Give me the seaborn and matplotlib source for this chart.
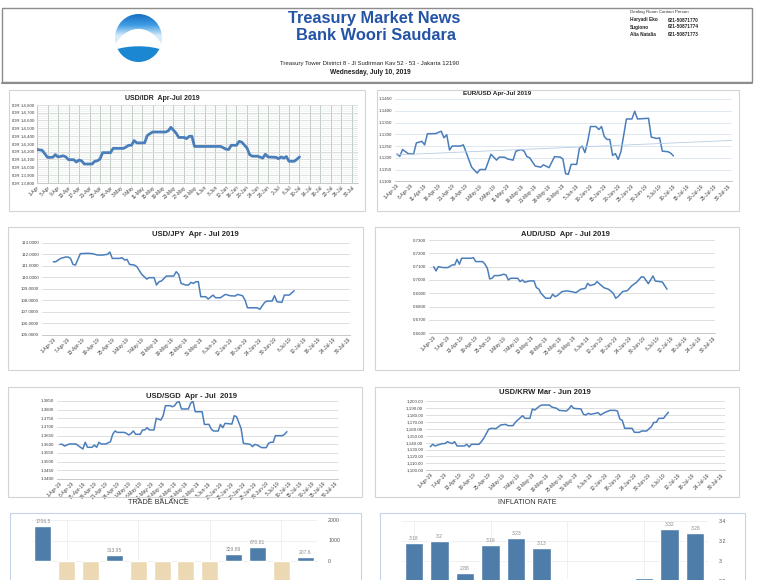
import numpy as np
import pandas as pd
import matplotlib
matplotlib.use("Agg")
import matplotlib.pyplot as plt
import seaborn as sns
from matplotlib.patches import Rectangle, Ellipse, Circle
from matplotlib.colors import LinearSegmentedColormap
from matplotlib.ticker import FuncFormatter, MultipleLocator

# ----------- DONNÉES -------------
# toutes les séries fx : jour 0 = 1 avril 2019
START = pd.Timestamp("2019-04-01")

idr_day = [0, 2, 4, 6, 7, 8, 10, 11, 12, 14, 15, 16, 17, 18, 21, 22, 23, 24, 25, 28,
           29, 33, 35, 36, 37, 38, 41, 42, 44, 49, 50, 51, 53, 54, 56, 57, 58, 59, 60, 70,
           72, 73, 74, 76, 77, 78, 80, 81, 82, 84, 86, 87, 88, 91, 92, 93, 94, 95, 96, 98,
           99, 100]
idr_val = [14225, 14215, 14125, 14125, 14160, 14130, 14145, 14130, 14095, 14095,
           14065, 14090, 14080, 14040, 14040, 14075, 14080, 14105, 14185, 14185,
           14240, 14240, 14280, 14280, 14340, 14310, 14310, 14405, 14450, 14450,
           14465, 14510, 14435, 14380, 14380, 14365, 14395, 14395, 14265, 14265,
           14230, 14225, 14280, 14280, 14330, 14320, 14245, 14160, 14140, 14140,
           14115, 14165, 14130, 14125, 14108, 14130, 14115, 14135, 14075, 14075,
           14100, 14130]

eur_day = [0, 1, 2, 4, 6, 7, 9, 10, 11, 14, 16, 17, 18, 19, 20, 23, 24, 27, 29, 30,
           32, 34, 36, 37, 39, 40, 42, 43, 45, 46, 47, 48, 50, 52, 53, 55, 57, 59, 60, 61,
           62, 63, 65, 66, 67, 68, 69, 70, 72, 73, 74, 75, 76, 77, 78, 79, 80, 81, 83, 85,
           86, 87, 91, 92, 94, 95, 96, 98, 99, 100]
eur_val = [1.1216, 1.1206, 1.1235, 1.1218, 1.1216, 1.1263, 1.1270, 1.1255, 1.1302, 1.1303,
           1.1313, 1.1285, 1.1298, 1.1233, 1.1250, 1.1250, 1.1255, 1.1160, 1.1135, 1.1150,
           1.1150, 1.1215, 1.1190, 1.1203, 1.1202, 1.1195, 1.1190, 1.1228, 1.1235, 1.1228,
           1.1205, 1.1200, 1.1165, 1.1160, 1.1170, 1.1158, 1.1205, 1.1203, 1.1195, 1.1132,
           1.1130, 1.1172, 1.1172, 1.1240, 1.1250, 1.1222, 1.1270, 1.1333, 1.1333, 1.1320,
           1.1333, 1.1290, 1.1278, 1.1278, 1.1210, 1.1218, 1.1193, 1.1225, 1.1365, 1.1365,
           1.1398, 1.1365, 1.1368, 1.1288, 1.1282, 1.1285, 1.1228, 1.1226, 1.1220, 1.1208]

jpy_day = [0, 1, 3, 5, 6, 7, 8, 9, 11, 14, 16, 18, 20, 22, 23, 24, 27, 28, 29, 30,
           31, 33, 34, 36, 38, 39, 41, 42, 43, 44, 46, 49, 50, 51, 52, 54, 55, 56, 57, 58,
           59, 60, 62, 63, 65, 66, 68, 70, 72, 74, 75, 77, 78, 79, 83, 84, 86, 87, 89, 90,
           91, 93, 94, 96, 98]
jpy_val = [111.35, 111.35, 111.64, 111.76, 111.76, 111.64, 111.12, 111.06, 112.05, 112.08,
           112.05, 111.93, 111.93, 111.99, 112.19, 111.64, 111.64, 111.70, 111.50, 111.55,
           111.12, 111.06, 110.92, 110.25, 109.85, 109.97, 109.97, 109.33, 109.62, 109.68,
           110.11, 110.11, 110.49, 110.25, 109.47, 109.33, 109.33, 109.56, 109.47, 109.62,
           109.62, 108.32, 108.32, 108.12, 108.46, 108.23, 108.23, 108.52, 108.40, 108.38,
           108.52, 108.40, 108.03, 107.36, 107.36, 107.22, 107.83, 107.94, 107.94, 108.40,
           107.88, 107.83, 108.46, 108.46, 108.84]

aud_day = [0, 1, 2, 4, 6, 8, 9, 10, 11, 12, 16, 17, 18, 21, 22, 23, 24, 25, 26, 28,
           30, 31, 32, 33, 36, 37, 38, 39, 41, 43, 44, 45, 46, 48, 50, 51, 52, 53, 55, 57,
           59, 61, 63, 65, 66, 67, 69, 70, 71, 73, 75, 77, 78, 79, 81, 83, 85, 87, 89, 90,
           92, 94, 95, 98, 100]
aud_val = [0.7100, 0.7068, 0.7100, 0.7093, 0.7093, 0.7113, 0.7113, 0.7155, 0.7118, 0.7163,
           0.7163, 0.7168, 0.7138, 0.7138, 0.7118, 0.7088, 0.7008, 0.7013, 0.7033, 0.7033,
           0.7043, 0.7038, 0.7000, 0.7013, 0.7013, 0.6988, 0.7000, 0.6983, 0.6993, 0.6993,
           0.6943, 0.6933, 0.6900, 0.6863, 0.6863, 0.6893, 0.6875, 0.6883, 0.6913, 0.6918,
           0.6913, 0.6905, 0.6930, 0.6938, 0.6975, 0.6958, 0.6968, 0.6988, 0.6972, 0.6942,
           0.6930, 0.6900, 0.6863, 0.6875, 0.6913, 0.6920, 0.6958, 0.6983, 0.7023, 0.7023,
           0.6972, 0.7030, 0.6992, 0.6985, 0.6931]

sgd_day = [0, 1, 2, 4, 7, 8, 10, 11, 12, 14, 15, 16, 17, 18, 20, 22, 23, 24, 25, 28,
           29, 30, 31, 32, 33, 35, 36, 37, 38, 39, 41, 42, 44, 45, 46, 48, 49, 50, 51, 52,
           53, 56, 57, 58, 59, 62, 63, 65, 66, 67, 69, 70, 71, 72, 75, 76, 77, 79, 80, 83,
           84, 85, 86, 88, 90, 91, 92, 93, 94, 97, 98, 99]
sgd_val = [1.3600, 1.3600, 1.3590, 1.3602, 1.3602, 1.3592, 1.3573, 1.3612, 1.3583, 1.3583,
           1.3596, 1.3583, 1.3612, 1.3602, 1.3602, 1.3615, 1.3658, 1.3677, 1.3669, 1.3669,
           1.3663, 1.3654, 1.3663, 1.3677, 1.3658, 1.3658, 1.3683, 1.3683, 1.3696, 1.3683,
           1.3683, 1.3750, 1.3740, 1.3765, 1.3823, 1.3823, 1.3817, 1.3823, 1.3842, 1.3846,
           1.3804, 1.3804, 1.3837, 1.3850, 1.3788, 1.3788, 1.3715, 1.3715, 1.3688, 1.3677,
           1.3677, 1.3715, 1.3696, 1.3721, 1.3717, 1.3765, 1.3760, 1.3692, 1.3606, 1.3600,
           1.3587, 1.3600, 1.3596, 1.3581, 1.3581, 1.3606, 1.3612, 1.3612, 1.3650, 1.3650,
           1.3658, 1.3673]

krw_day = [0, 1, 2, 3, 5, 6, 7, 8, 9, 10, 11, 14, 15, 16, 17, 20, 21, 22, 24, 25,
           27, 29, 31, 32, 34, 35, 36, 38, 39, 41, 42, 43, 45, 46, 49, 50, 52, 53, 56, 57,
           58, 59, 62, 63, 64, 65, 66, 68, 69, 70, 72, 74, 76, 77, 78, 79, 80, 83, 84, 86,
           87, 89, 91, 92, 93, 94, 96, 97, 98]
krw_val = [1134.1, 1137.5, 1135.1, 1136.5, 1138.5, 1138.5, 1141.3, 1139.9, 1138.5, 1141.3,
           1135.1, 1135.1, 1137.5, 1133.7, 1137.5, 1137.5, 1141.3, 1146.2, 1159.1, 1160.6,
           1160.1, 1165.4, 1166.3, 1164.4, 1164.4, 1169.2, 1172.6, 1178.8, 1175.0, 1175.0,
           1188.5, 1187.0, 1192.8, 1194.2, 1194.2, 1191.3, 1189.4, 1186.5, 1185.6, 1188.5,
           1193.3, 1189.4, 1188.5, 1180.8, 1179.8, 1182.2, 1180.8, 1182.2, 1183.2, 1179.8,
           1183.7, 1186.5, 1186.5, 1185.6, 1174.0, 1172.1, 1160.6, 1160.6, 1154.8, 1154.8,
           1156.7, 1156.7, 1163.0, 1169.2, 1169.2, 1175.0, 1175.0, 1179.8, 1183.7]

# balance commerciale (USD mn) et inflation (% yoy)
trade_month = ["Jun-18", "Jul-18", "Aug-18", "Sep-18", "Oct-18", "Nov-18",
               "Dec-18", "Jan-19", "Feb-19", "Mar-19", "Apr-19", "May-19"]
trade_val = [1706.5, -2031.8, -1022.0, 313.95, -1820.0, -2050.0,
             -1100.0, -1160.0, 329.89, 670.81, -2500.0, 207.6]
trade_ticks = [-1000, 0, 1000, 2000]
infl_month = ["Jul-18", "Aug-18", "Sep-18", "Oct-18", "Nov-18", "Dec-18",
              "Jan-19", "Feb-19", "Mar-19", "Apr-19", "May-19", "Jun-19"]
infl_val = [3.18, 3.2, 2.88, 3.16, 3.23, 3.13, 2.82, 2.57, 2.48, 2.83, 3.32, 3.28]
infl_ticks = [2.8, 3.0, 3.2, 3.4]

# ----------- MISE EN PAGE -------------
W, H = 758, 580
LINE = "#4a7ebb"
BAR_BLUE = "#3f7db8"
BAR_NEG = "#f5dcaa"

sns.set_style("white")
plt.rcParams["font.family"] = ["Liberation Sans", "DejaVu Sans"]

fig = plt.figure(figsize=(W / 100, H / 100), dpi=100)


def px_axes(left, top, right, bottom):
    # axes placés en pixels (origine en haut à gauche)
    return fig.add_axes([left / W, 1 - bottom / H, (right - left) / W, (bottom - top) / H])


def px_box(x1, y1, x2, y2, color="#d4d4d4", lw=0.8):
    fig.add_artist(Rectangle((x1 / W, 1 - y2 / H), (x2 - x1) / W, (y2 - y1) / H,
                             transform=fig.transFigure, fill=False, ec=color, lw=lw))


def px_text(x, y, s, **kw):
    fig.text(x / W, 1 - y / H, s, **kw)


def fx_chart(day, val, left, x0, ppd, right, ytop, ybot, ylim, ystep, every, fmt,
             long_label=True, lw=1.1):
    # left = bord de la zone de tracé, x0 = position du 1er avril
    ax = px_axes(left, ytop, right, ybot)
    sns.lineplot(x=day, y=val, ax=ax, color=LINE, linewidth=lw)
    ax.set_xlim((left - x0) / ppd, (right - x0) / ppd)
    ax.set_ylim(*ylim)
    ticks = np.arange(0, 121, every)
    dates = START + pd.to_timedelta(ticks, unit="D")
    if long_label:
        labels = [f"{d.day}-{d:%b-%y}" for d in dates]
    else:
        labels = [f"{d.day}-{d:%b}" for d in dates]
    ax.set_xticks(ticks)
    ax.set_xticklabels(labels, rotation=45, ha="right", rotation_mode="anchor")
    ax.yaxis.set_major_locator(MultipleLocator(ystep))
    ax.yaxis.set_major_formatter(FuncFormatter(fmt))
    ax.grid(axis="y", color="#d9d9d9", lw=0.6)
    ax.tick_params(axis="x", labelsize=3.5, length=0, pad=1.5, colors="#404040")
    ax.tick_params(axis="y", labelsize=3.2, length=0, pad=2, colors="#404040")
    for s in ["top", "right", "left"]:
        ax.spines[s].set_visible(False)
    ax.spines["bottom"].set_color("#bfbfbf")
    ax.spines["bottom"].set_linewidth(0.6)
    ax.set_xlabel("")
    ax.set_ylabel("")
    return ax


# ----------- EN-TÊTE -------------
px_box(2, 8, 752, 82, color="#8c8c8c", lw=1.0)
fig.add_artist(plt.Line2D([2 / W, 752 / W], [1 - 83 / H, 1 - 83 / H],
                          transform=fig.transFigure, color="#8c8c8c", lw=1.5))

# logo : disque bleu avec un arc blanc
lg = px_axes(115, 14, 162, 62)
disc = Circle((0, 0), 1, fc="none", ec="none")
lg.add_patch(disc)
yy = np.linspace(1, -1, 200).reshape(-1, 1)
sky = np.clip((1 - yy) / 0.9, 0, 1)
cmap = LinearSegmentedColormap.from_list("sky", ["#1670c2", "#3d9be3", "#d6ecfb"])
im = lg.imshow(sky, cmap=cmap, extent=(-1, 1, -1, 1), aspect="auto", vmin=0, vmax=1)
im.set_clip_path(disc)
for c, w, h, col in [((0, -1.45), 2.6, 3.66, "white"), ((0, -0.91), 3.0, 1.13, "#1b86d1")]:
    e = Ellipse(c, w, h, fc=col, ec="none")
    lg.add_patch(e)
    e.set_clip_path(disc)
lg.set_xlim(-1, 1)
lg.set_ylim(-1, 1)
lg.axis("off")

px_text(374, 18, "Treasury Market News", ha="center", va="center", fontsize=11.8,
        fontweight="bold", color="#2454a6")
px_text(376, 36, "Bank Woori Saudara", ha="center", va="center", fontsize=11.8,
        fontweight="bold", color="#2454a6")
px_text(370, 63, "Treasury Tower District 8 - Jl Sudirman Kav 52 - 53 - Jakarta 12190",
        ha="center", va="center", fontsize=4.3, color="#222222")
px_text(370, 72, "Wednesday, July 10, 2019", ha="center", va="center", fontsize=4.8,
        fontweight="bold", color="#222222")

px_text(630, 12, "Dealing Room Contact Person", va="center", fontsize=3.2, color="#333333")
for yy_, name, tel in [(20, "Haryadi Eko", "021-50871770"), (27, "Sugiono", "021-50871774"),
                       (34, "Alia Natalia", "021-50871773")]:
    px_text(630, yy_, name, va="center", fontsize=3.4, fontweight="bold", color="#222222")
    px_text(668, yy_, tel, va="center", fontsize=3.4, fontweight="bold", color="#222222")

# ----------- GRAPHIQUES FX -------------
four = lambda v, p: f"{v:.4f}"

px_box(9, 90, 365, 211)
ax = fx_chart(idr_day, idr_val, 37, 37, 2.625, 358, 104.7, 182.7, (13800, 14800), 100, 4,
              lambda v, p: f"IDR {v:,.0f}", long_label=False, lw=2.0)
ax.yaxis.set_minor_locator(MultipleLocator(25))
ax.grid(axis="y", which="minor", color="#e4ebe6", lw=0.4)
ax.grid(axis="x", color="#a9bcae", lw=0.6)
px_text(162, 98, "USD/IDR  Apr-Jul 2019", ha="center", va="center", fontsize=5, fontweight="bold")

px_box(377, 90, 739, 211)
ax = fx_chart(eur_day, eur_val, 395, 397, 2.764, 732, 99, 181.3, (1.11, 1.145), 0.005, 5, four)
ax.grid(axis="y", color="#dbe4f0", lw=0.6)
coef = np.polyfit(eur_day, eur_val, 1)
xs = np.array([0, ax.get_xlim()[1]])
ax.plot(xs, np.polyval(coef, xs), color="#b8cce4", lw=0.6)
px_text(497, 94, "EUR/USD Apr-Jul 2019", ha="center", va="center", fontsize=4.6, fontweight="bold")

px_box(8, 227, 363, 370)
fx_chart(jpy_day, jpy_val, 41.7, 53.3, 2.458, 350, 242.7, 335, (105, 113), 1, 6, four)
px_text(195, 235, "USD/JPY  Apr - Jul 2019", ha="center", va="center", fontsize=5.5, fontweight="bold")

px_box(375, 227, 739, 370)
fx_chart(aud_day, aud_val, 429, 433.7, 2.333, 715, 240, 333.3, (0.66, 0.73), 0.01, 6, four)
px_text(565, 235, "AUD/USD  Apr - Jul 2019", ha="center", va="center", fontsize=5.5, fontweight="bold")

px_box(8, 387, 362, 497)
fx_chart(sgd_day, sgd_val, 57, 60, 2.292, 338, 401, 479, (1.34, 1.385), 0.005, 5, four)
px_text(192, 396, "USD/SGD  Apr - Jul  2019", ha="center", va="center", fontsize=5.5, fontweight="bold")

px_box(375, 387, 739, 497)
fx_chart(krw_day, krw_val, 426, 430.3, 2.43, 725, 401, 470.3, (1100, 1200), 10, 6,
         lambda v, p: f"{v:,.2f}")
px_text(545, 393, "USD/KRW Mar - Jun 2019", ha="center", va="center", fontsize=5.5, fontweight="bold")

# ----------- BARRES (bas de page, coupées par le bord) -------------


def bar_chart(months, vals, left, right, top, ybot_px, ylim, yticks, colors, lines, fmt):
    ax = px_axes(left, top, right, ybot_px)
    hue = ["pos" if v > 0 else "neg" for v in vals]
    sns.barplot(x=months, y=vals, hue=hue, palette=colors, dodge=False, legend=False,
                width=0.72, ax=ax, zorder=2)
    ax.set_ylim(*ylim)
    ax.set_xlim(-0.5, len(vals) - 0.5)
    ax.yaxis.tick_right()
    ax.set_yticks(yticks)
    ax.yaxis.set_major_formatter(FuncFormatter(fmt))
    ax.tick_params(axis="y", labelsize=3.8, length=0, pad=8, colors="#555555")
    ax.tick_params(axis="x", length=0, labelbottom=False)
    ax.grid(axis="y", color="#eeeeee", lw=0.6, zorder=0)
    for k in lines:
        ax.axvline(k, color="#eeeeee", lw=0.6, zorder=0)
    for s in ax.spines.values():
        s.set_visible(False)
    span = ylim[1] - ylim[0]
    # valeur la plus basse encore visible dans la page
    vis_min = ylim[1] - (H - 6 - top) / (ybot_px - top) * span
    for i, v in enumerate(vals):
        pos = v + span * 0.02 if v > 0 else v - span * 0.02
        if pos < vis_min:
            continue
        ax.text(i, pos, str(v), ha="center", va="bottom", fontsize=3.6, color="#8a8a8a")
    ax.set_xlabel("")
    ax.set_ylabel("")
    return ax


px_text(158, 502, "TRADE BALANCE", ha="center", va="center", fontsize=5.2, color="#333333")
px_box(10, 513, 361, 640, color="#c5d3e6")
bar_chart(trade_month, trade_val, 31, 317, 520, 622.5, (-3000, 2000), trade_ticks,
          {"pos": BAR_BLUE, "neg": BAR_NEG}, [1, 4, 7, 10], lambda v, p: f"{v:.0f}")

px_text(527, 502, "INFLATION RATE", ha="center", va="center", fontsize=5.2, color="#333333")
px_box(380, 513, 745, 640, color="#c5d3e6")
bar_chart(infl_month, infl_val, 401, 708, 521, 641, (2.2, 3.4), infl_ticks,
          {"pos": BAR_BLUE, "neg": BAR_NEG}, [0, 3, 6, 9], lambda v, p: f"{v:g}")

fig.savefig("out.png", dpi=100)
